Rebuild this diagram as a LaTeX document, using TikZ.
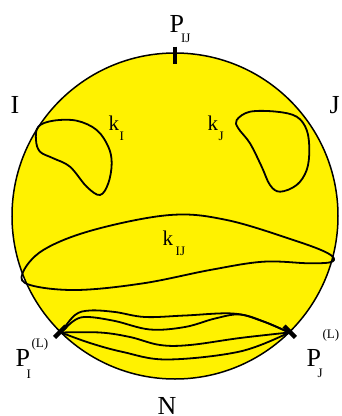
\documentclass[tikz,border=0pt]{standalone}
\usepackage{fontspec}
\setmainfont{Liberation Serif}
\newcommand\mysubfont{\fontsize{13}{13}\selectfont}
\begin{document}
\begin{tikzpicture}[x=1pt,y=-1pt,
  big/.style={inner sep=0pt, anchor=base west, font=\fontsize{26}{26}\selectfont},
  kl/.style={inner sep=0pt, anchor=base west, font=\fontsize{21}{21}\selectfont},
  loopline/.style={line width=1.8pt, line join=round},
  bundle/.style={line width=1.8pt, line cap=round},
  tick/.style={line width=4.5pt}]
\useasboundingbox (0,0) rectangle (342,416);
\coordinate (C) at (175,216);
\fill[yellow] (C) circle (163pt);
\draw[line width=1.5pt] (C) circle (163pt);
% loops
\draw[loopline] plot[smooth cycle, tension=0.6] coordinates {(38.3,126.7) (53.3,120.7) (76.7,120.7) (96.7,130) (108.3,146.7) (111.7,163.3) (108.3,183.3) (100,195) (86.7,186.7) (70,166.7) (53.3,158.3) (40,151.7) (36,140)};
\draw[loopline] plot[smooth cycle, tension=0.6] coordinates {(236.7,120) (250,111.7) (276.7,111.7) (296.7,116.7) (306.7,130) (309.3,150) (306.7,170) (296.7,185) (280,191.7) (270,185) (261.7,166.7) (250,143.3) (238.3,128.3)};
\draw[loopline] plot[smooth cycle, tension=0.6] coordinates {(22.5,273.3) (43.3,250) (93.3,230) (170,215) (226.7,220) (293.3,240) (328,253.3) (332.5,261.5) (310,263.3) (263.3,261.7) (210,270) (143.3,283.3) (76.7,290) (30,285)};
% endpoints
\coordinate (PI) at (61,332.5);
\coordinate (PJ) at (289,332.5);
\coordinate (PItop) at (65.9,326.1);
\coordinate (PIbot) at (54.6,337.4);
\coordinate (PJtop) at (284.1,326.1);
\coordinate (PJbot) at (295.4,337.4);
\coordinate (Ttop) at (175,46.5);
\coordinate (Tbot) at (175,64);
% bundle of curves
\draw[bundle] plot[smooth, tension=0.6] coordinates {(PI) (75,315) (90,310.5) (115,312) (145,317) (185,315.5) (233,313.5) (262,321) (PJ)};
\draw[bundle] plot[smooth, tension=0.6] coordinates {(PI) (75,320) (88,317) (115,321) (150,329.5) (185,327) (215,318.5) (240,314.5) (265,322) (PJ)};
\draw[bundle] plot[smooth, tension=0.6] coordinates {(PI) (100,332.5) (130,337) (160,345) (190,345) (240,338) (PJ)};
\draw[bundle] plot[smooth, tension=0.6] coordinates {(PI) (90,343) (123,352) (167,359.5) (240,351.5) (PJ)};
% ticks
\draw[tick] (Ttop) -- (Tbot);
\draw[tick] (PItop) -- (PIbot);
\draw[tick] (PJtop) -- (PJbot);
% labels
\node[big] (pij) at (169.5,32) {P\kern-3pt\raisebox{-10pt}{\mysubfont IJ}};
\node[big] (nI) at (10.5,113) {I};
\node[big] (nJ) at (329.5,113) {J};
\node[kl] (kI) at (108.5,130) {k\kern0.5pt\raisebox{-10pt}{\mysubfont I}};
\node[kl] (kJ) at (207.5,130) {k\kern0.5pt\raisebox{-10pt}{\mysubfont J}};
\node[kl] (kIJ) at (162.5,245) {k\kern2.5pt\raisebox{-10pt}{\mysubfont IJ}};
\node[big] (pI) at (15.5,366.7) {P\kern-3.5pt\rlap{\raisebox{-11.3pt}{\mysubfont I}}\kern5pt\raisebox{19.2pt}{\mysubfont (L)}};
\node[big] (pJ) at (306.5,366.7) {P\kern-3.5pt\rlap{\raisebox{-10.3pt}{\mysubfont J}}\kern5pt\raisebox{28.7pt}{\mysubfont (L)}};
\node[big] (nN) at (157.5,414) {N};
\end{tikzpicture}
\end{document}
